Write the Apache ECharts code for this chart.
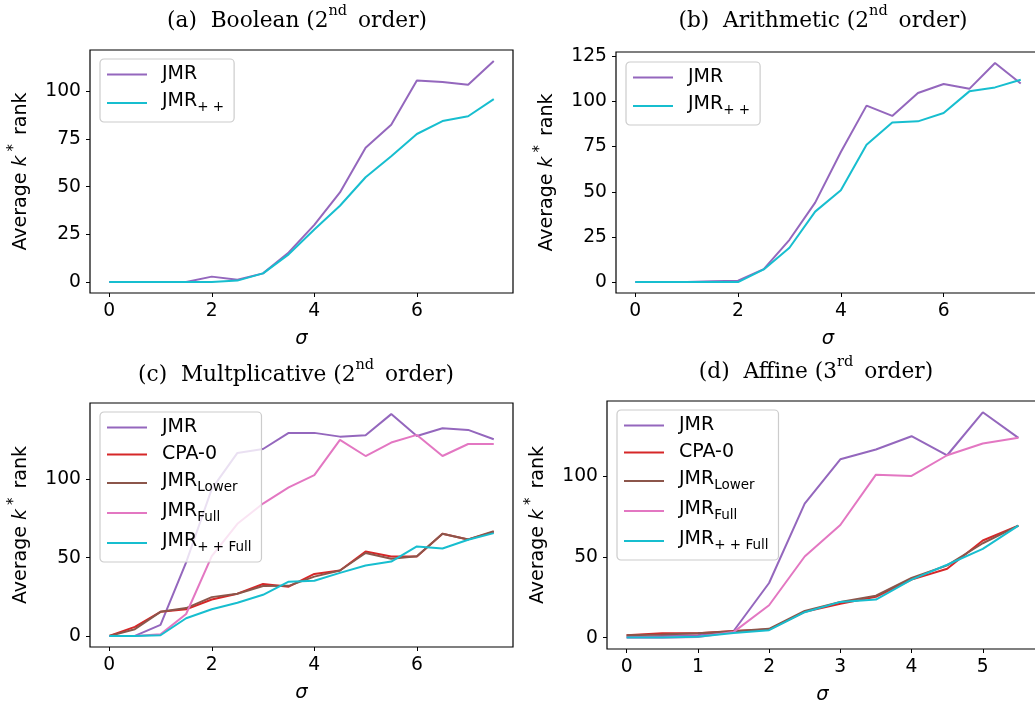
<!DOCTYPE html>
<html>
<head>
<meta charset="utf-8">
<script src="https://cdn.jsdelivr.net/npm/echarts@6/dist/echarts.min.js"></script>
<style>
  html, body { margin: 0; padding: 0; background: #fff; }
  #main { width: 1035px; height: 707px; }
</style>
</head>
<body>
<div id="main"></div>
<script>
// sigma values (x)
var sigmaLong = [0, 0.5, 1, 1.5, 2, 2.5, 3, 3.5, 4, 4.5, 5, 5.5, 6, 6.5, 7, 7.5];
var sigmaShort = [0, 0.5, 1, 1.5, 2, 2.5, 3, 3.5, 4, 4.5, 5, 5.5];

// (a) Boolean
var boolJmr = [0, 0, 0, 0, 2.8, 1.2, 4.5, 15.5, 30, 47, 70.5, 82.5, 105.8, 105, 103.5, 116];
var boolJmrPP = [0, 0, 0, 0, 0, 0.7, 4.5, 14.5, 27.5, 40, 55, 66, 77.7, 84.5, 87, 96];

// (b) Arithmetic
var arithJmr = [0, 0, 0, 0.5, 0.7, 7.2, 23.4, 44, 72, 97.7, 92, 104.7, 109.7, 107, 121.3, 110];
var arithJmrPP = [0, 0, 0, 0, 0, 7, 19, 39, 50.8, 76, 88.4, 89, 93.6, 105.6, 107.8, 112];

// (c) Multplicative
var multJmr = [0, 0, 7.1, 47, 94, 117, 119.5, 129.8, 129.8, 127.4, 128.3, 141.8, 127.8, 132.8, 131.7, 125.7];
var multCpa = [0, 5.8, 15.4, 17, 23.3, 27, 33.2, 31.5, 39.6, 41.8, 54, 50.7, 50.7, 65.3, 61.7, 66.4];
var multLower = [0, 4.3, 15.4, 17.8, 24.8, 27, 31.9, 32, 37.9, 41.8, 53, 49.3, 51, 65.3, 61.7, 67];
var multFull = [0, 0, 1, 14, 51, 71.7, 84.6, 94.9, 102.8, 125.3, 115, 123.6, 128.5, 115, 122.7, 122.7];
var multFullPP = [0, 0, 0.4, 11.3, 17, 21.2, 26.3, 34.7, 35.3, 40.3, 45, 47.5, 57.2, 55.9, 61.5, 65.7];

// (d) Affine
var affJmr = [0.5, 1, 1.5, 4, 33.9, 83, 110.5, 116.6, 124.8, 113, 139.6, 123.8];
var affCpa = [1.6, 2.7, 2.7, 4.1, 5.1, 16, 21.1, 25.3, 36, 42.7, 60.2, 69.4];
var affLower = [1.6, 2, 2.7, 4, 5.5, 16.6, 22.2, 26, 37, 44.8, 58.5, 69.4];
var affFull = [0, 0, 0.5, 3.5, 20.1, 50.3, 69.8, 101, 100.2, 113, 120.3, 123.8];
var affFullPP = [0.2, 0.2, 0.6, 3, 4.7, 15.8, 22.2, 23.6, 36, 45.2, 55, 69.4];

var titles = [
    '{t|(a)  Boolean (2}{s|nd}{t| order)}',
    '{t|(b)  Arithmetic (2}{s|nd}{t| order)}',
    '{t|(c)  Multplicative (2}{s|nd}{t| order)}',
    '{t|(d)  Affine (3}{s|rd}{t| order)}'
];

var colors = {
    'JMR': '#9467bd',
    'CPA-0': '#d62728',
    'JMR_Lower': '#8c564b',
    'JMR_Full': '#e377c2',
    'JMR++': '#17becf',
    'JMR++Full': '#17becf'
};
var legendText = {
    'JMR': '{n|JMR}',
    'CPA-0': '{n|CPA-0}',
    'JMR_Lower': '{n|JMR}{s|Lower}',
    'JMR_Full': '{n|JMR}{s|Full}',
    'JMR++': '{n|JMR}{s|+ +}',
    'JMR++Full': '{n|JMR}{s|+ + Full}'
};

var grids = [
    { left: 90, top: 50, width: 423, height: 243 },
    { left: 616, top: 52, width: 424, height: 241 },
    { left: 90, top: 403, width: 423, height: 244 },
    { left: 607, top: 401, width: 431, height: 248 }
];

var xRanges = [[-0.375, 7.875], [-0.375, 7.875], [-0.375, 7.875], [-0.275, 5.775]];
var xTicks = [[0, 2, 4, 6], [0, 2, 4, 6], [0, 2, 4, 6], [0, 1, 2, 3, 4, 5]];
var yRanges = [[-5.8, 121.8], [-6.07, 127.4], [-7.09, 148.9], [-6.98, 146.6]];
var yTicks = [[0, 25, 50, 75, 100], [0, 25, 50, 75, 100, 125], [0, 50, 100], [0, 50, 100]];

var titlePos = [[297, 18], [823, 18], [296, 372], [816, 369]];
var legendPos = [[100, 59], [626, 62], [100, 412], [617, 410]];

var panels = [
    { xs: sigmaLong, lines: [['JMR', boolJmr], ['JMR++', boolJmrPP]] },
    { xs: sigmaLong, lines: [['JMR', arithJmr], ['JMR++', arithJmrPP]] },
    { xs: sigmaLong, lines: [['JMR', multJmr], ['CPA-0', multCpa], ['JMR_Lower', multLower], ['JMR_Full', multFull], ['JMR++Full', multFullPP]] },
    { xs: sigmaShort, lines: [['JMR', affJmr], ['CPA-0', affCpa], ['JMR_Lower', affLower], ['JMR_Full', affFull], ['JMR++Full', affFullPP]] }
];

var tickFont = { color: '#000', fontFamily: 'DejaVu Sans', fontSize: 18.7 };

var option = {
    animation: false,
    backgroundColor: '#fff',
    grid: [],
    xAxis: [],
    yAxis: [],
    legend: [],
    series: [],
    graphic: []
};

panels.forEach(function (p, i) {
    var g = grids[i];
    option.grid.push({
        left: g.left, top: g.top, width: g.width, height: g.height,
        show: true, borderColor: '#000', borderWidth: 1.2, backgroundColor: 'transparent',
        outerBoundsMode: 'none'
    });
    option.xAxis.push({
        type: 'value', gridIndex: i,
        min: xRanges[i][0], max: xRanges[i][1],
        name: 'σ', nameLocation: 'middle', nameGap: 36,
        nameTextStyle: { color: '#000', fontFamily: 'DejaVu Sans', fontStyle: 'italic', fontSize: 19.5 },
        axisLine: { show: false, onZero: false },
        axisTick: { show: true, length: 4, customValues: xTicks[i], lineStyle: { color: '#000', width: 1 } },
        axisLabel: Object.assign({ margin: 9, customValues: xTicks[i] }, tickFont),
        splitLine: { show: false }
    });
    option.yAxis.push({
        type: 'value', gridIndex: i,
        min: yRanges[i][0], max: yRanges[i][1],
        name: '{t|Average }{i|k}{p|*}{t| rank}', nameLocation: 'middle', nameGap: 59,
        nameTextStyle: {
            color: '#000', fontFamily: 'DejaVu Sans', fontSize: 19,
            rich: {
                t: { fontFamily: 'DejaVu Sans', fontSize: 19, color: '#000', verticalAlign: 'top', padding: [5, 0, 0, 0] },
                i: { fontFamily: 'DejaVu Sans', fontStyle: 'italic', fontSize: 19, color: '#000', verticalAlign: 'top', padding: [5, 4, 0, 0] },
                p: { fontFamily: 'DejaVu Sans', fontSize: 15, color: '#000', verticalAlign: 'top', padding: [0, 3, 0, 0] }
            }
        },
        axisLine: { show: false, onZero: false },
        axisTick: { show: true, length: 4, customValues: yTicks[i], lineStyle: { color: '#000', width: 1 } },
        axisLabel: Object.assign({ margin: 9, customValues: yTicks[i] }, tickFont),
        splitLine: { show: false }
    });
    option.legend.push({
        orient: 'vertical',
        left: legendPos[i][0], top: legendPos[i][1],
        data: p.lines.map(function (l) { return l[0]; }),
        icon: 'rect', itemWidth: 40, itemHeight: 2, itemGap: 8,
        padding: [6, 10, 8, 7],
        backgroundColor: 'rgba(255,255,255,0.8)',
        borderColor: '#cccccc', borderWidth: 1.2, borderRadius: 4,
        selectedMode: false,
        formatter: function (name) { return legendText[name]; },
        textStyle: {
            color: '#000', fontFamily: 'DejaVu Sans', fontSize: 19,
            rich: {
                n: { fontFamily: 'DejaVu Sans', fontSize: 19, color: '#000', verticalAlign: 'top', padding: [0, 0, 0, 10] },
                s: { fontFamily: 'DejaVu Sans', fontSize: 13.5, color: '#000', verticalAlign: 'top', padding: [8, 0, 0, 0] }
            }
        }
    });
    p.lines.forEach(function (l) {
        option.series.push({
            name: l[0], type: 'line',
            xAxisIndex: i, yAxisIndex: i,
            showSymbol: false, symbol: 'none',
            lineStyle: { color: colors[l[0]], width: 2 },
            itemStyle: { color: colors[l[0]] },
            data: p.xs.map(function (x, k) { return [x, l[1][k]]; })
        });
    });
    option.graphic.push({
        type: 'text', x: titlePos[i][0], y: titlePos[i][1],
        style: {
            text: titles[i], align: 'center', verticalAlign: 'middle',
            rich: {
                t: { fontFamily: 'DejaVu Serif', fontSize: 21.7, fill: '#000', verticalAlign: 'top', padding: [7, 0, 0, 0] },
                s: { fontFamily: 'DejaVu Serif', fontSize: 14.5, fill: '#000', verticalAlign: 'top', padding: [0, 4, 0, 0] }
            }
        }
    });
});

var myChart = echarts.init(document.getElementById('main'));
myChart.setOption(option);
</script>
</body>
</html>
